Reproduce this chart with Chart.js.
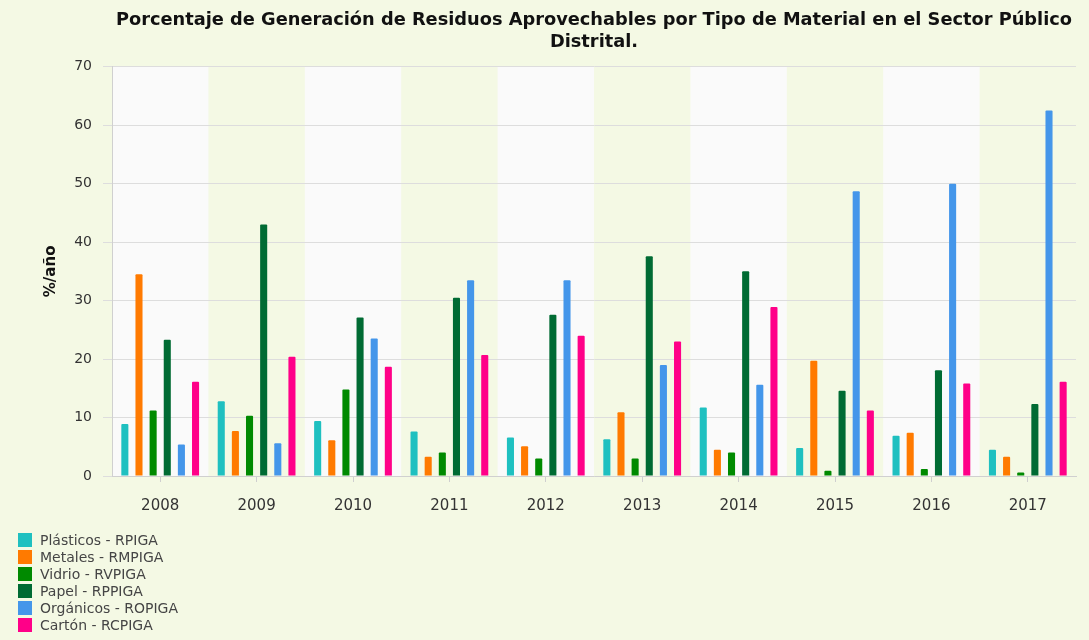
<!DOCTYPE html>
<html>
<head>
<meta charset="utf-8">
<script src="https://cdn.jsdelivr.net/npm/chart.js@4.4.1/dist/chart.umd.min.js"></script>
<style>
  html, body { margin: 0; padding: 0; background: #f4f9e4; }
  #wrap { position: relative; width: 1089px; height: 640px; }
  #legend { position: absolute; left: 18px; top: 532px; font-family: "DejaVu Sans", sans-serif; font-size: 14px; color: #454545; }
  #legend div { height: 17px; line-height: 17px; white-space: nowrap; }
  #legend span { display: inline-block; width: 14px; height: 14px; vertical-align: -2px; margin-right: 8px; }
</style>
</head>
<body>
<div id="wrap">
  <canvas id="chart" width="1089" height="640"></canvas>
  <div id="legend"></div>
</div>
<script>
// years on the x axis
const years = ["2008", "2009", "2010", "2011", "2012", "2013", "2014", "2015", "2016", "2017"];

// percent per material
const plasticos = [8.9, 12.8, 9.4, 7.6, 6.6, 6.3, 11.7, 4.8, 6.9, 4.5];
const metales   = [34.5, 7.7, 6.1, 3.3, 5.1, 10.9, 4.5, 19.7, 7.4, 3.3];
const vidrio    = [11.2, 10.3, 14.8, 4.0, 3.0, 3.0, 4.0, 0.9, 1.2, 0.6];
const papel     = [23.3, 43.0, 27.1, 30.5, 27.6, 37.6, 35.0, 14.6, 18.1, 12.3];
const organicos = [5.4, 5.6, 23.5, 33.5, 33.5, 19.0, 15.6, 48.7, 50.0, 62.5];
const carton    = [16.1, 20.4, 18.7, 20.7, 24.0, 23.0, 28.9, 11.2, 15.8, 16.1];

const names  = ["Plásticos - RPIGA", "Metales - RMPIGA", "Vidrio - RVPIGA", "Papel - RPPIGA", "Orgánicos - ROPIGA", "Cartón - RCPIGA"];
const series = [plasticos, metales, vidrio, papel, organicos, carton];
const colors = ["#1fc0c0", "#ff7a00", "#008a00", "#006b33", "#4496ea", "#ff0088"];

const yTicks = [0, 10, 20, 30, 40, 50, 60, 70];

// background + alternating bands behind each year
const bands = {
  id: "bands",
  beforeDraw(chart) {
    const ctx = chart.ctx;
    const area = chart.chartArea;
    const x = chart.scales.x;
    ctx.save();
    ctx.fillStyle = "#f4f9e4";
    ctx.fillRect(0, 0, chart.width, chart.height);
    const step = x.getPixelForValue(1) - x.getPixelForValue(0);
    ctx.fillStyle = "#fafafa";
    for (let i = 0; i < years.length; i += 2) {
      let c = x.getPixelForValue(i);
      ctx.fillRect(c - step / 2, area.top, step, area.bottom - area.top);
    }
    ctx.restore();
  }
};

let datasets = [];
for (let i = 0; i < series.length; i++) {
  datasets.push({
    label: names[i],
    data: series[i],
    backgroundColor: colors[i],
    borderWidth: 0,
    borderRadius: 1,
    categoryPercentage: 0.88,
    barPercentage: 0.5
  });
}

new Chart("chart", {
  type: "bar",
  data: { labels: years, datasets: datasets },
  plugins: [bands],
  options: {
    responsive: false,
    animation: false,
    layout: { padding: { left: 0, right: 13, top: 0, bottom: 120 } },
    plugins: {
      legend: { display: false },
      tooltip: { enabled: false },
      title: {
        display: true,
        fullSize: false,
        text: ["Porcentaje de Generación de Residuos Aprovechables por Tipo de Material en el Sector Público", "Distrital."],
        color: "#111",
        font: { family: "DejaVu Sans", size: 17.8, weight: "bold", lineHeight: 1.2 },
        padding: { top: 10, bottom: 14 }
      }
    },
    scales: {
      x: {
        grid: { offset: false, drawOnChartArea: false, drawTicks: true, tickLength: 6, color: "#cfcfcf" },
        border: { color: "#d0d0d0" },
        ticks: { color: "#333", padding: 15, font: { family: "DejaVu Sans", size: 15 } },
        afterFit(scale) { scale.height = 44; }
      },
      y: {
        min: 0,
        max: 70,
        afterBuildTicks(scale) { scale.ticks = yTicks.map(v => ({ value: v })); },
        grid: { color: "#dddddd", tickLength: 9 },
        border: { color: "#d0d0d0" },
        ticks: { color: "#333", padding: 11, font: { family: "DejaVu Sans", size: 14 } },
        title: { display: true, text: "%/año", color: "#111", padding: { top: 42, bottom: 0 }, font: { family: "DejaVu Sans", size: 15, weight: "bold" } },
        afterFit(scale) { scale.width = 112; }
      }
    }
  }
});

// legend as a simple vertical list under the chart
let legend = document.getElementById("legend");
for (let i = 0; i < names.length; i++) {
  let row = document.createElement("div");
  row.innerHTML = '<span style="background:' + colors[i] + '"></span>' + names[i];
  legend.appendChild(row);
}
</script>
</body>
</html>
